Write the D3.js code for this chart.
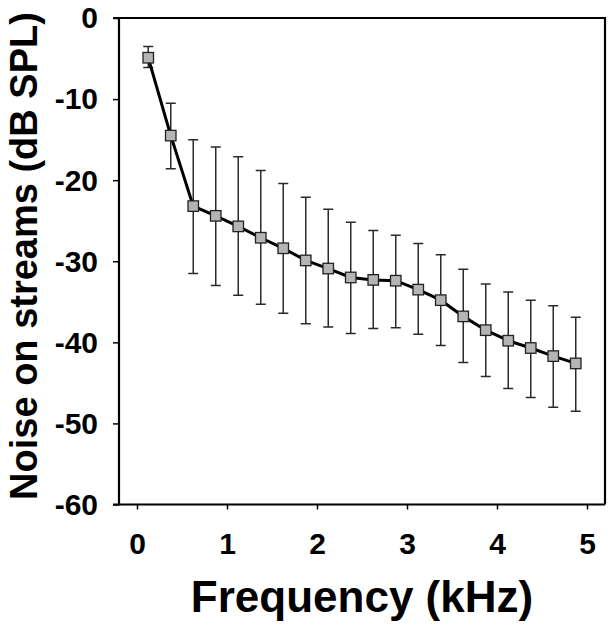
<!DOCTYPE html>
<html>
<head>
<meta charset="utf-8">
<script src="https://cdn.jsdelivr.net/npm/d3@7"></script>
<style>
  html, body { margin: 0; padding: 0; background: #fff; }
  svg { display: block; }
  text { font-family: "Liberation Sans", Arial, sans-serif; font-weight: bold; fill: #000; }
</style>
</head>
<body>
<svg id="chart" width="614" height="628"></svg>
<script>
// Data
const freq = [0.125, 0.375, 0.625, 0.875, 1.125, 1.375, 1.625, 1.875, 2.125, 2.375,
              2.625, 2.875, 3.125, 3.375, 3.625, 3.875, 4.125, 4.375, 4.625, 4.875];
const noise = [-4.9, -14.5, -23.2, -24.4, -25.7, -27.1, -28.4, -29.9, -30.9, -32.0,
               -32.3, -32.4, -33.5, -34.8, -36.8, -38.5, -39.8, -40.7, -41.7, -42.6];
const upper = [-3.5, -10.5, -15.0, -15.9, -17.1, -18.8, -20.4, -22.1, -23.6, -25.2,
               -26.2, -26.8, -27.8, -29.2, -31.0, -32.8, -33.8, -34.8, -35.5, -36.9];
const lower = [-6.1, -18.6, -31.5, -33.0, -34.2, -35.3, -36.4, -37.7, -38.1, -38.9,
               -38.3, -38.2, -39.0, -40.4, -42.5, -44.2, -45.7, -46.8, -48.0, -48.5];
const xTicks = [0, 1, 2, 3, 4, 5];
const yTicks = [0, -10, -20, -30, -40, -50, -60];
const xTitle = "Frequency (kHz)";
const yTitle = "Noise on streams (dB SPL)";

const points = freq.map((f, i) => ({ f, v: noise[i], hi: upper[i], lo: lower[i] }));

const svg = d3.select("#chart");
const L = 119, R = 605, T = 18, B = 504.5;

const x = d3.scaleLinear().domain([-0.2, 5.2]).range([L, R]);
const y = d3.scaleLinear().domain([-60, 0]).range([B, T]);
const fmt = d => String(d);

// Frame (top & right)
svg.append("path")
  .attr("d", `M${L},${T}H${R}V${B}`)
  .attr("fill", "none").attr("stroke", "#000").attr("stroke-width", 2.2);

// Y axis
const yAxis = svg.append("g").attr("transform", `translate(${L},0)`)
  .call(d3.axisLeft(y).tickValues(yTicks).tickSize(6).tickPadding(15).tickFormat(fmt));
yAxis.select(".domain").attr("stroke-width", 2.2).attr("d", `M-6,${T}H0V${B}H-6`);
yAxis.selectAll(".tick line").attr("stroke-width", 1.5);
yAxis.selectAll(".tick text")
  .style("font-size", "30px").attr("dy", "0.33em");

// X axis
const xAxis = svg.append("g").attr("transform", `translate(0,${B})`)
  .call(d3.axisBottom(x).tickValues(xTicks).tickSize(5).tickPadding(10).tickFormat(fmt));
xAxis.select(".domain").attr("stroke-width", 2.2).attr("d", `M${L},0H${R}`);
xAxis.selectAll(".tick line").attr("stroke-width", 1.5);
xAxis.selectAll(".tick text")
  .style("font-size", "30px").attr("dy", "0").attr("y", 49.5);

// Error bars
const eb = svg.append("g").attr("stroke", "#2a2a2a").attr("stroke-width", 1.5).attr("fill", "none");
eb.selectAll("path").data(points).enter().append("path")
  .attr("d", d => {
    const cx = x(d.f), y1 = y(d.hi), y2 = y(d.lo);
    return `M${cx},${y1}V${y2}M${cx - 5},${y1}H${cx + 5}M${cx - 5},${y2}H${cx + 5}`;
  });

// Line
const line = d3.line().x(d => x(d.f)).y(d => y(d.v));
svg.append("path").datum(points)
  .attr("d", line).attr("fill", "none").attr("stroke", "#000").attr("stroke-width", 3);

// Markers
const s = 10.5;
svg.append("g").selectAll("rect").data(points).enter().append("rect")
  .attr("x", d => x(d.f) - s / 2).attr("y", d => y(d.v) - s / 2)
  .attr("width", s).attr("height", s)
  .attr("fill", "#b4b4b4").attr("stroke", "#222").attr("stroke-width", 1.3);

// Titles
svg.append("text")
  .attr("x", (L + R) / 2).attr("y", 612)
  .attr("text-anchor", "middle")
  .style("font-size", "44px")
  .text(xTitle);

svg.append("text")
  .attr("transform", `translate(37,256) rotate(-90)`)
  .attr("text-anchor", "middle")
  .style("font-size", "38px")
  .text(yTitle);
</script>
</body>
</html>
